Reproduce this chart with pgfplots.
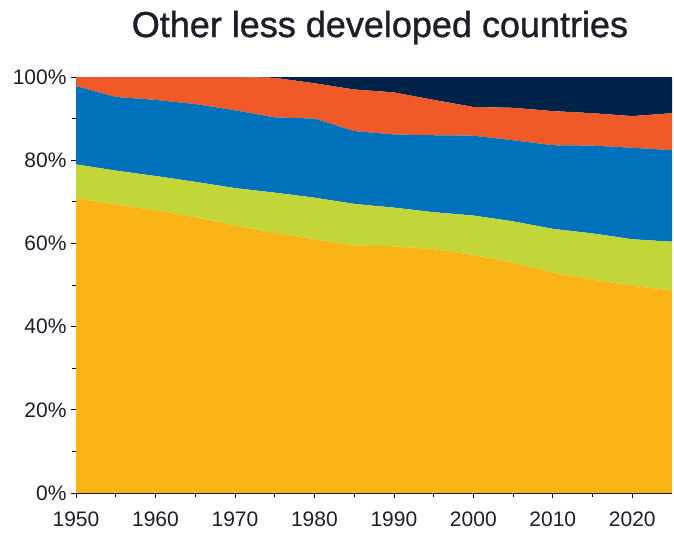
\documentclass[border=0pt]{standalone}
\usepackage{pgfplots}
\pgfplotsset{compat=1.18}
\usepackage{pgfplotstable}
\usepackage{fontspec}
\setmainfont{Liberation Sans}
\newfontfamily\titlefont[FakeBold=1.1]{Liberation Sans}

\definecolor{cYellow}{HTML}{FBB415}
\definecolor{cGreen}{HTML}{C2D63A}
\definecolor{cBlue}{HTML}{0072BC}
\definecolor{cOrange}{HTML}{EF5A28}
\definecolor{cNavy}{HTML}{00234A}
\definecolor{cText}{HTML}{1E1E2A}

% layer shares (percent), bottom to top
\pgfplotstableread{
year  yel   grn   blu   ora   nav
1950  70.8  8.2   18.8  2.2   0.0
1955  69.3  8.2   17.7  4.8   0.0
1960  68.0  8.2   18.3  5.5   0.0
1965  66.3  8.5   18.7  6.5   0.0
1970  64.3  9.0   18.7  8.0   0.0
1975  62.5  9.7   18.1  9.5   0.2
1980  61.0  10.0  19.0  8.5   1.5
1985  59.5  10.0  17.5  10.0  3.0
1990  59.3  9.3   17.6  10.1  3.7
1995  58.6  8.9   18.5  8.5   5.5
2000  57.2  9.5   19.2  6.9   7.2
2005  55.3  10.0  19.5  7.8   7.4
2010  53.0  10.5  20.1  8.2   8.2
2015  51.3  11.1  21.1  7.8   8.7
2020  49.8  11.2  22.0  7.6   9.4
2025  48.7  11.7  22.0  8.9   8.7
}\shares

\begin{document}
\begin{tikzpicture}
\useasboundingbox (-76pt,-49pt) rectangle (598pt,493pt);
\begin{axis}[
    at={(0,0)}, anchor=south west,
    scale only axis,
    width=596pt, height=416pt,
    xmin=1950, xmax=2025,
    ymin=0, ymax=100,
    stack plots=y,
    axis lines=left,
    axis line style={-},
    x axis line style={black, line width=0.6pt},
    y axis line style={draw=none},
    xtick={1950,1960,...,2020},
    ytick={0,20,...,100},
    minor x tick num=1,
    minor y tick num=1,
    tick align=outside,
    major tick length=5pt,
    minor tick length=4pt,
    every tick/.style={black, line width=0.7pt},
    /pgf/number format/assume math mode=true,
    x tick label style={font=\fontsize{21}{21}\selectfont, text=cText,
        yshift=-10pt, /pgf/number format/1000 sep={}},
    y tick label style={font=\fontsize{21}{21}\selectfont, text=cText,
        xshift=-1pt},
    yticklabel={\pgfmathprintnumber{\tick}\%},
    clip=false,
]
\addplot[fill=cYellow, draw=none] table[x=year, y=yel] {\shares} \closedcycle;
\addplot[fill=cGreen, draw=none] table[x=year, y=grn] {\shares} \closedcycle;
\addplot[fill=cBlue, draw=none] table[x=year, y=blu] {\shares} \closedcycle;
\addplot[fill=cOrange, draw=none] table[x=year, y=ora] {\shares} \closedcycle;
\addplot[fill=cNavy, draw=none] table[x=year, y=nav] {\shares} \closedcycle;
\node[anchor=base, font=\titlefont\fontsize{36}{36}\selectfont, text=cText]
    at (rel axis cs:0.51,1) [yshift=40pt] {Other less developed countries};
\end{axis}
\end{tikzpicture}
\end{document}
